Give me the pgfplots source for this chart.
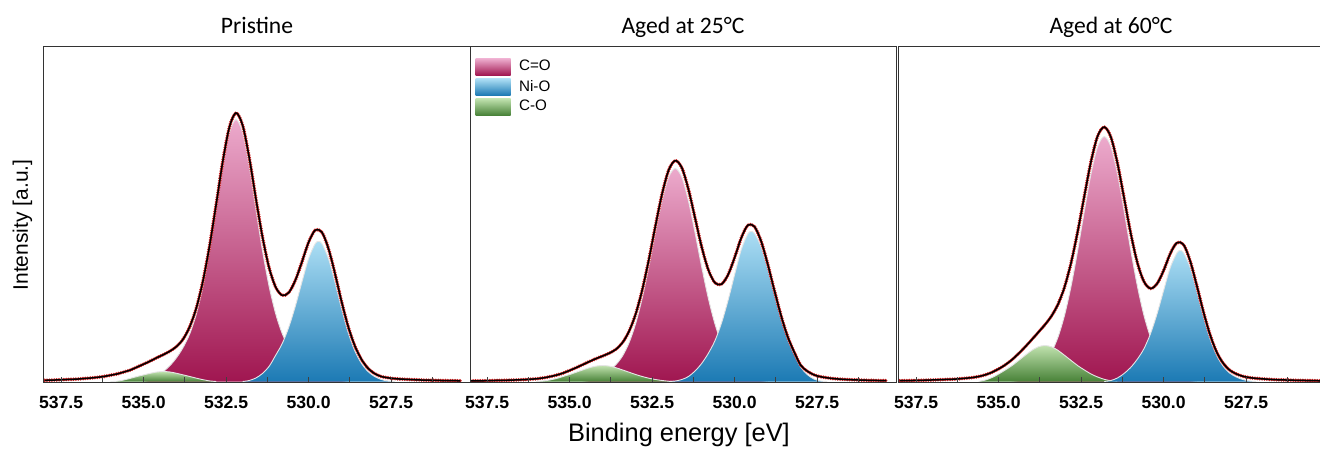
\documentclass[border=0pt]{standalone}
\usepackage{pgfplots}
\pgfplotsset{compat=1.18}
\usepackage{pgfplotstable}
\usepackage{fontspec}
\setmainfont{Liberation Sans}
\newfontfamily\carlito{Carlito}
\definecolor{pinkT}{RGB}{236,170,204}
\definecolor{pinkB}{RGB}{160,22,80}
\definecolor{blueT}{RGB}{172,222,244}
\definecolor{blueB}{RGB}{28,122,180}
\definecolor{greenT}{RGB}{192,226,174}
\definecolor{greenB}{RGB}{72,130,56}
\definecolor{dataRed}{RGB}{205,35,35}

% ---------------- Panel 1 : Pristine ----------------
\pgfplotstableread[row sep=\\]{x y\\
538.0 1.2\\ 537.8 1.35\\ 537.6 1.6\\ 537.4 1.9\\ 537.2 2.15\\ 537.0 2.45\\ 536.8 3.0\\ 536.6 3.5\\ 536.4 4.2\\ 536.2 5.05\\
536.0 6.3\\ 535.8 7.6\\ 535.6 9.5\\ 535.4 11.5\\ 535.2 14.45\\ 535.0 17.35\\ 534.8 20.45\\ 534.6 23.8\\ 534.4 26.9\\ 534.2 30.4\\
534.0 35.1\\ 533.8 42.6\\ 533.6 55.05\\ 533.4 74.0\\ 533.2 100.9\\ 533.0 136.0\\ 532.8 177.6\\ 532.6 220.5\\ 532.4 254.6\\ 532.2 268.6\\
532.0 256.2\\ 531.8 223.9\\ 531.6 183.3\\ 531.4 144.75\\ 531.2 114.1\\ 531.0 94.4\\ 530.8 86.15\\ 530.6 89.0\\ 530.4 101.4\\ 530.2 119.9\\
530.0 139.3\\ 529.8 151.4\\ 529.6 149.4\\ 529.4 133.0\\ 529.2 107.7\\ 529.0 79.7\\ 528.8 54.8\\ 528.6 35.6\\ 528.4 22.2\\ 528.2 13.2\\
528.0 7.9\\ 527.8 5.0\\ 527.6 3.7\\ 527.4 2.9\\ 527.2 2.4\\ 527.0 2.1\\ 526.8 1.8\\ 526.6 1.5\\ 526.4 1.3\\ 526.2 1.2\\
526.0 1.0\\ 525.8 0.9\\ 525.6 0.8\\ 525.4 0.7\\
}\envA
\pgfplotstableread[row sep=\\]{x y\\
535.0 0\\ 534.8 1.5\\ 534.6 5\\ 534.4 10\\ 534.2 16\\ 534.0 24\\ 533.8 34.3\\ 533.6 47.9\\ 533.4 67.9\\ 533.2 95.5\\
533.0 131\\ 532.8 172.6\\ 532.6 215.1\\ 532.4 248.7\\ 532.2 262\\ 532.0 248.7\\ 531.8 215.1\\ 531.6 172.6\\ 531.4 131\\ 531.2 95.5\\
531.0 67.9\\ 530.8 47.9\\ 530.6 34.3\\ 530.4 25.5\\ 530.2 19.8\\ 530.0 14\\ 529.8 10\\ 529.6 7\\ 529.4 4.5\\ 529.2 2.5\\ 529.0 1\\ 528.8 0\\
}\pinkA
\pgfplotstableread[row sep=\\]{x y\\
532.0 0\\ 531.8 1\\ 531.6 3.5\\ 531.4 8\\ 531.2 15\\ 531.0 26.2\\ 530.8 38.0\\ 530.6 54.5\\ 530.4 75.7\\ 530.2 99.9\\
530.0 123.1\\ 529.8 137.9\\ 529.7 140\\ 529.6 138\\ 529.4 123.1\\ 529.2 99.1\\ 529.0 72.6\\ 528.8 48.8\\ 528.6 30.6\\ 528.4 18.2\\
528.2 10.0\\ 528.0 5.0\\ 527.8 2.0\\ 527.6 0.5\\ 527.4 0\\
}\blueA
\pgfplotstableread[row sep=\\]{x y\\
536.0 0\\ 535.8 0.3\\ 535.6 1.5\\ 535.4 3.2\\ 535.2 5.0\\ 535.0 6.6\\ 534.8 8.2\\ 534.6 9.5\\ 534.4 10\\ 534.2 9.5\\
534.0 8.2\\ 533.8 6.6\\ 533.6 5.0\\ 533.4 3.3\\ 533.2 1.8\\ 533.0 0.6\\ 532.8 0\\
}\greenA

% ---------------- Panel 2 : Aged at 25 C ----------------
\pgfplotstableread[row sep=\\]{x y\\
538.0 0.6\\ 537.8 0.7\\ 537.6 0.75\\ 537.4 0.9\\ 537.2 1.05\\ 537.0 1.15\\ 536.8 1.35\\ 536.6 1.6\\ 536.4 1.85\\ 536.2 2.25\\
536.0 2.75\\ 535.8 3.6\\ 535.6 4.85\\ 535.4 6.4\\ 535.2 8.4\\ 535.0 11.05\\ 534.8 13.9\\ 534.6 16.9\\ 534.4 20.0\\ 534.2 22.9\\
534.0 25.5\\ 533.8 28.3\\ 533.6 32.1\\ 533.4 38.8\\ 533.2 50.2\\ 533.0 67.5\\ 532.8 91.7\\ 532.6 121.9\\ 532.4 155.7\\ 532.2 187.4\\
532.0 211.4\\ 531.8 220.9\\ 531.6 213.75\\ 531.4 192.15\\ 531.2 163.55\\ 531.0 134.7\\ 530.8 111.95\\ 530.6 98.8\\ 530.4 97.25\\ 530.2 106.7\\
530.0 124.0\\ 529.8 143.55\\ 529.6 156.35\\ 529.4 154.95\\ 529.2 140.5\\ 529.0 117.7\\ 528.8 91.7\\ 528.6 66.7\\ 528.4 45.5\\ 528.2 29.8\\
528.0 16.4\\ 527.8 10.4\\ 527.6 6.7\\ 527.4 4.8\\ 527.2 3.7\\ 527.0 2.9\\ 526.8 2.35\\ 526.6 1.95\\ 526.4 1.7\\ 526.2 1.45\\
526.0 1.25\\ 525.8 1.1\\ 525.6 0.95\\ 525.4 0.85\\
}\envB
\pgfplotstableread[row sep=\\]{x y\\
534.6 0\\ 534.4 1\\ 534.2 3\\ 534.0 6\\ 533.8 10.5\\ 533.6 16.8\\ 533.4 25.4\\ 533.2 38.7\\ 533.0 57.9\\ 532.8 83.6\\
532.6 114.7\\ 532.4 148.7\\ 532.2 180.6\\ 532.0 204.2\\ 531.8 213\\ 531.6 204.2\\ 531.4 180.6\\ 531.2 148.7\\ 531.0 114.7\\ 530.8 83.6\\
530.6 57.9\\ 530.4 38.7\\ 530.2 25.4\\ 530.0 16.8\\ 529.8 10.5\\ 529.6 6\\ 529.4 3\\ 529.2 1\\ 529.0 0\\
}\pinkB
\pgfplotstableread[row sep=\\]{x y\\
532.0 0\\ 531.8 0.5\\ 531.6 2\\ 531.4 5\\ 531.2 10.5\\ 531.0 18\\ 530.8 28.0\\ 530.6 40.6\\ 530.4 58.3\\ 530.2 81.1\\
530.0 107.0\\ 529.8 131.8\\ 529.6 147.7\\ 529.5 150\\ 529.4 148.2\\ 529.2 135.0\\ 529.0 113.0\\ 528.8 87.6\\ 528.6 63.1\\ 528.4 42.7\\
528.2 27.5\\ 528.0 14.5\\ 527.8 7\\ 527.6 2.5\\ 527.4 0.5\\ 527.2 0\\
}\blueB
\pgfplotstableread[row sep=\\]{x y\\
536.0 0\\ 535.8 0.5\\ 535.6 1.5\\ 535.4 3.0\\ 535.2 5.0\\ 535.0 7.0\\ 534.8 9.3\\ 534.6 11.6\\ 534.4 13.8\\ 534.2 15.4\\
534.0 16\\ 533.8 15.4\\ 533.6 13.8\\ 533.4 11.6\\ 533.2 9.3\\ 533.0 7.0\\ 532.8 5.0\\ 532.6 3.3\\ 532.4 2.0\\ 532.2 1.0\\
532.0 0.3\\ 531.8 0\\
}\greenB

% ---------------- Panel 3 : Aged at 60 C ----------------
\pgfplotstableread[row sep=\\]{x y\\
538.0 0.8\\ 537.8 0.9\\ 537.6 1.0\\ 537.4 1.15\\ 537.2 1.3\\ 537.0 1.55\\ 536.8 1.75\\ 536.6 2.05\\ 536.4 2.25\\ 536.2 2.7\\
536.0 3.3\\ 535.8 3.9\\ 535.6 5.05\\ 535.4 6.7\\ 535.2 9.25\\ 535.0 12.6\\ 534.8 16.65\\ 534.6 21.7\\ 534.4 27.8\\ 534.2 34.5\\
534.0 41.7\\ 533.8 49.15\\ 533.6 56.65\\ 533.4 65.45\\ 533.2 77.3\\ 533.0 94.8\\ 532.8 119.5\\ 532.6 150.7\\ 532.4 186.0\\ 532.2 220.2\\
532.0 245.5\\ 531.8 254.5\\ 531.6 244.5\\ 531.4 218.4\\ 531.2 183.8\\ 531.0 148.6\\ 530.8 119.3\\ 530.6 100.1\\ 530.4 93.0\\ 530.2 97.7\\
530.0 111.1\\ 529.8 127.85\\ 529.6 138.7\\ 529.4 137.05\\ 529.2 121.0\\ 529.0 96.55\\ 528.8 70.4\\ 528.6 47.5\\ 528.4 29.95\\ 528.2 18.45\\
528.0 11.4\\ 527.8 7.6\\ 527.6 5.2\\ 527.4 3.9\\ 527.2 3.15\\ 527.0 2.65\\ 526.8 2.15\\ 526.6 1.8\\ 526.4 1.6\\ 526.2 1.4\\
526.0 1.2\\ 525.8 1.05\\ 525.6 0.95\\ 525.4 0.8\\ 525.2 0.7\\
}\envC
\pgfplotstableread[row sep=\\]{x y\\
534.6 0\\ 534.4 1\\ 534.2 3.5\\ 534.0 7\\ 533.8 12\\ 533.6 19\\ 533.4 29.3\\ 533.2 44.5\\ 533.0 66.6\\ 532.8 96.1\\
532.6 131.9\\ 532.4 171.0\\ 532.2 207.8\\ 532.0 234.9\\ 531.8 245\\ 531.6 234.9\\ 531.4 207.8\\ 531.2 171.0\\ 531.0 131.9\\ 530.8 96.1\\
530.6 66.6\\ 530.4 44.5\\ 530.2 29.3\\ 530.0 19\\ 529.8 12\\ 529.6 7\\ 529.4 3.5\\ 529.2 1\\ 529.0 0\\
}\pinkC
\pgfplotstableread[row sep=\\]{x y\\
531.8 0\\ 531.6 1\\ 531.4 3.5\\ 531.2 8\\ 531.0 14\\ 530.8 22.2\\ 530.6 32.6\\ 530.4 47.7\\ 530.2 67.7\\ 530.0 91.1\\
529.8 113.9\\ 529.6 128.5\\ 529.5 131\\ 529.4 129.0\\ 529.2 114.4\\ 529.0 90.9\\ 528.8 65.5\\ 528.6 43.2\\ 528.4 26.5\\ 528.2 15.5\\
528.0 8.5\\ 527.8 4.5\\ 527.6 2\\ 527.4 0.5\\ 527.2 0\\
}\blueC
\pgfplotstableread[row sep=\\]{x y\\
535.6 0\\ 535.4 1.5\\ 535.2 4.0\\ 535.0 7.5\\ 534.8 11.5\\ 534.6 15.8\\ 534.4 20.9\\ 534.2 26.1\\ 534.0 31.1\\ 533.8 34.7\\
533.6 36\\ 533.4 34.7\\ 533.2 31.1\\ 533.0 26.1\\ 532.8 20.9\\ 532.6 15.8\\ 532.4 11.5\\ 532.2 7.5\\ 532.0 4.5\\ 531.8 2.2\\
531.6 0.8\\ 531.4 0\\
}\greenC

\pgfplotsset{
  xpspanel/.style={
    anchor=south west, scale only axis, width=213pt, height=167.5pt,
    x dir=reverse, ymin=-0.5, ymax=334.5, ytick=\empty,
    xtick={527.5,530,532.5,535,537.5},
    minor xtick={526.25,528.75,531.25,533.75,536.25},
    xtick pos=left, tick align=inside,
    major tick length=2.5pt, minor tick length=2.5pt,
    tick style={black!75, line width=0.5pt},
    axis line style={black!80, line width=0.5pt},
    axis on top,
    xticklabel style={/pgf/number format/.cd, fixed, fixed zerofill, precision=1, assume math mode=true, /tikz/.cd,
      font=\fontsize{8.8}{10}\selectfont\bfseries, yshift=-3.5pt},
    title style={font=\carlito\fontsize{11.8}{13}\selectfont, at={(0.5,1)}, anchor=base, yshift=0.5pt},
    clip=true,
  },
  compfill/.style={draw=none, smooth, tension=0.5, forget plot},
  compline/.style={draw=white!80!gray, line width=0.45pt, smooth, tension=0.5, forget plot},
  datared/.style={dataRed, line width=1.9pt, line cap=round, dash pattern=on 0pt off 1.2pt, smooth, tension=0.5, forget plot},
  envline/.style={black, line width=0.75pt, smooth, tension=0.5, forget plot},
}

\begin{document}
\begin{tikzpicture}
% Panel 1
\begin{axis}[xpspanel, at={(22pt,34pt)}, xmin=525.11, xmax=538.02, title={Pristine}]
  \addplot[compfill, top color=pinkT, bottom color=pinkB] table {\pinkA} \closedcycle;
  \addplot[compline] table {\pinkA};
  \addplot[compfill, top color=greenT, bottom color=greenB] table {\greenA} \closedcycle;
  \addplot[compline] table {\greenA};
  \addplot[compfill, top color=blueT, bottom color=blueB] table {\blueA} \closedcycle;
  \addplot[compline] table {\blueA};
  \addplot[datared] table {\envA};
  \addplot[envline] table {\envA};
\end{axis}
% Panel 2
\begin{axis}[xpspanel, at={(235pt,34pt)}, xmin=525.11, xmax=538.02, title={Aged at 25°C},
  legend style={draw=none, fill=none, at={(0.012,0.966)}, anchor=north west,
    font=\fontsize{7.6}{9}\selectfont, row sep=1.45pt, inner sep=0pt,
    nodes={inner sep=0.8pt}},
  legend cell align=left]
  \addplot[compfill, top color=pinkT, bottom color=pinkB] table {\pinkB} \closedcycle;
  \addplot[compline] table {\pinkB};
  \addplot[compfill, top color=greenT, bottom color=greenB] table {\greenB} \closedcycle;
  \addplot[compline] table {\greenB};
  \addplot[compfill, top color=blueT, bottom color=blueB] table {\blueB} \closedcycle;
  \addplot[compline] table {\blueB};
  \addplot[datared] table {\envB};
  \addplot[envline] table {\envB};
  \addlegendimage{legend image code/.code={\path[draw=none, top color=pinkT, bottom color=pinkB] (0pt,-4.1pt) rectangle (17.5pt,4.1pt);}}
  \addlegendentry{\hspace{3.5pt}C=O}
  \addlegendimage{legend image code/.code={\path[draw=none, top color=blueT, bottom color=blueB] (0pt,-4.1pt) rectangle (17.5pt,4.1pt);}}
  \addlegendentry{\hspace{3.5pt}Ni-O}
  \addlegendimage{legend image code/.code={\path[draw=none, top color=greenT, bottom color=greenB] (0pt,-4.1pt) rectangle (17.5pt,4.1pt);}}
  \addlegendentry{\hspace{3.5pt}C-O}
\end{axis}
% Panel 3
\begin{axis}[xpspanel, at={(449pt,34pt)}, xmin=525.14, xmax=538.05, title={Aged at 60°C}]
  \addplot[compfill, top color=pinkT, bottom color=pinkB] table {\pinkC} \closedcycle;
  \addplot[compline] table {\pinkC};
  \addplot[compfill, top color=greenT, bottom color=greenB] table {\greenC} \closedcycle;
  \addplot[compline] table {\greenC};
  \addplot[compfill, top color=blueT, bottom color=blueB] table {\blueC} \closedcycle;
  \addplot[compline] table {\blueC};
  \addplot[datared] table {\envC};
  \addplot[envline] table {\envC};
\end{axis}
\node[font=\fontsize{12.7}{14}\selectfont, anchor=base] at (339.5pt,4.5pt) {Binding energy [eV]};
\node[font=\fontsize{10.5}{12}\selectfont, rotate=90, anchor=base] at (14pt,112.5pt) {Intensity [a.u.]};
\pgfresetboundingbox
\path[use as bounding box] (0pt,0pt) rectangle (660pt,225pt);
\end{tikzpicture}
\end{document}
